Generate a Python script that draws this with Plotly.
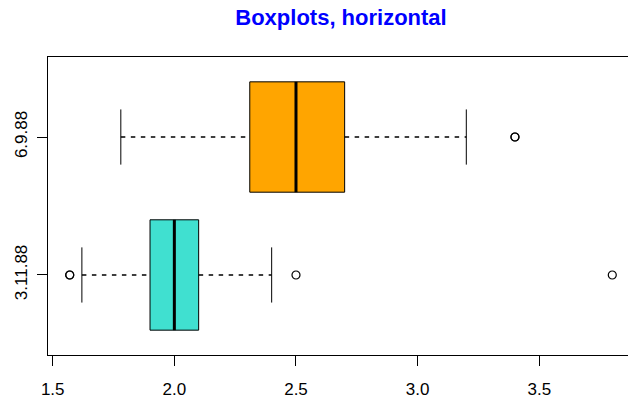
import plotly.graph_objects as go

# ---- data ----
groups = ["3.11.88", "6.9.88"]
q1 = [1.90, 2.31]
medians = [2.00, 2.50]
q3 = [2.10, 2.70]
lower_whisker = [1.62, 1.78]
upper_whisker = [2.40, 3.20]
outliers = {
    "3.11.88": [1.57, 1.57, 2.50, 3.80],
    "6.9.88": [3.40, 3.40],
}
colors = ["#40E0D0", "#FFA500"]
positions = [1, 2]

BOX_HALF = 0.4
CAP_HALF = 0.2

fig = go.Figure()

# boxes
fig.add_trace(go.Bar(
    y=positions, x=[b - a for a, b in zip(q1, q3)], base=q1,
    orientation="h", width=2 * BOX_HALF,
    marker=dict(color=colors, line=dict(color="black", width=1)),
    hoverinfo="skip", showlegend=False,
))

# dashed whiskers
wx, wy = [], []
for p, lw, a, b, uw in zip(positions, lower_whisker, q1, q3, upper_whisker):
    wx += [lw, a, None, b, uw, None]
    wy += [p, p, None, p, p, None]
fig.add_trace(go.Scatter(x=wx, y=wy, mode="lines",
                         line=dict(color="black", width=1.3, dash="4.5px,5.5px"),
                         showlegend=False, hoverinfo="skip"))

# whisker caps
cx, cy = [], []
for p, lw, uw in zip(positions, lower_whisker, upper_whisker):
    cx += [lw, lw, None, uw, uw, None]
    cy += [p - CAP_HALF, p + CAP_HALF, None, p - CAP_HALF, p + CAP_HALF, None]
fig.add_trace(go.Scatter(x=cx, y=cy, mode="lines",
                         line=dict(color="black", width=1),
                         showlegend=False, hoverinfo="skip"))

# medians
mx, my = [], []
for p, m in zip(positions, medians):
    mx += [m, m, None]
    my += [p - BOX_HALF, p + BOX_HALF, None]
fig.add_trace(go.Scatter(x=mx, y=my, mode="lines",
                         line=dict(color="black", width=3),
                         showlegend=False, hoverinfo="skip"))

# outliers
ox, oy = [], []
for p, g in zip(positions, groups):
    for v in outliers[g]:
        ox.append(v)
        oy.append(p)
fig.add_trace(go.Scatter(x=ox, y=oy, mode="markers",
                         marker=dict(symbol="circle-open", size=8, color="black",
                                     line=dict(width=1.2)),
                         showlegend=False, hoverinfo="skip"))

font_family = "Liberation Sans, Arial, sans-serif"

fig.update_layout(
    width=628, height=400,
    margin=dict(l=48, r=0, t=57, b=45),
    paper_bgcolor="white", plot_bgcolor="white",
    title=dict(text="<b>Boxplots, horizontal</b>", x=(48 + 634) / 2 / 628, xanchor="center",
               y=1 - 17 / 400, yanchor="middle",
               font=dict(family=font_family, size=22, color="#0000FF")),
    font=dict(family=font_family, size=17, color="black"),
    showlegend=False,
)
fig.update_xaxes(
    range=[1.4807, 3.8646], tickvals=[1.5, 2.0, 2.5, 3.0, 3.5],
    ticktext=["1.5", "2.0", "2.5", "3.0", "3.5"],
    showgrid=False, zeroline=False,
    showline=True, mirror=True, linecolor="black", linewidth=1,
    ticks="outside", ticklen=10, tickcolor="black", tickwidth=1,
    ticklabelstandoff=9,
)
fig.update_yaxes(
    range=[0.42, 2.58], tickvals=positions, ticktext=groups,
    showgrid=False, zeroline=False,
    showline=True, mirror=False, linecolor="black", linewidth=1,
    ticks="outside", ticklen=10, tickcolor="black", tickwidth=1,
    tickangle=-90, ticklabelstandoff=3,
)

fig.write_html("out.html")
